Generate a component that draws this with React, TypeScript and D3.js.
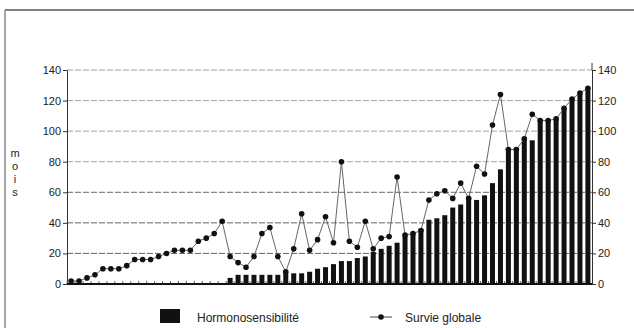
import { useRef, useEffect } from "react";
import * as d3 from "d3";

// 66 patients, ordered by duration of hormone sensitivity
const categories = d3.range(1, 67).map(String);

const hormono = [
  0, 0, 0, 0, 0, 0, 0, 0, 0, 0,
  0, 0, 0, 0, 0, 0, 0, 0, 0, 0,
  4, 6, 6, 6, 6, 6, 6, 8, 7, 7,
  8, 10, 11, 13, 15, 15, 17, 18, 21, 23,
  25, 27, 32, 33, 36, 42, 43, 45, 50, 52,
  57, 55, 58, 66, 75, 89, 89, 95, 94, 107,
  107, 108, 115, 121, 125, 127,
];

const survie = [
  2, 2, 4, 6, 10, 10, 10, 12, 16, 16,
  16, 18, 20, 22, 22, 22, 28, 30, 33, 41,
  18, 14, 11, 18, 33, 37, 18, 8, 23, 46,
  22, 29, 44, 27, 80, 28, 24, 41, 23, 30,
  31, 70, 32, 33, 35, 55, 59, 61, 56, 66,
  56, 77, 72, 104, 124, 88, 88, 95, 111, 107,
  107, 108, 115, 121, 125, 128,
];

const yTicks = [0, 20, 40, 60, 80, 100, 120, 140];
const yLetters = ["m", "o", "i", "s"];

export default function App() {
  const svgRef = useRef<SVGSVGElement>(null);

  useEffect(() => {
    document.body.style.margin = "0";
    if (!svgRef.current) return;
    const svg = d3.select(svgRef.current);
    svg.selectAll("*").remove();

    const left = 67, right = 592, top = 70, bottom = 284;
    const x = d3.scaleBand().domain(categories).range([left, right]).paddingInner(0.37).paddingOuter(0.2);
    const y = d3.scaleLinear().domain([0, 140]).range([bottom, top]);
    const cx = (i: number) => (x(categories[i]) ?? 0) + x.bandwidth() / 2;

    // frame
    svg.append("line").attr("x1", 5).attr("y1", 10).attr("x2", 634).attr("y2", 10)
      .attr("stroke", "#555").attr("stroke-width", 1.5);
    svg.append("line").attr("x1", 5).attr("y1", 10).attr("x2", 5).attr("y2", 328)
      .attr("stroke", "#888").attr("stroke-width", 1.5);

    // grid
    svg.append("g").selectAll("line")
      .data(yTicks.filter((t) => t > 0))
      .join("line")
      .attr("x1", left).attr("x2", right)
      .attr("y1", (d) => y(d)).attr("y2", (d) => y(d))
      .attr("stroke", (d) => (d <= 60 ? "#555" : "#999"))
      .attr("stroke-width", 0.9)
      .attr("stroke-dasharray", "6,2");

    // axes
    const axL = svg.append("g").attr("transform", `translate(${left},0)`)
      .call(d3.axisLeft(y).tickValues(yTicks).tickSize(4).tickSizeOuter(0).tickPadding(2));
    const axR = svg.append("g").attr("transform", `translate(${right},0)`)
      .call(d3.axisRight(y).tickValues(yTicks).tickSize(4).tickSizeOuter(0).tickPadding(2));
    [axL, axR].forEach((ax) => {
      ax.selectAll("text").attr("fill", "#222").style("font-size", "11px")
        .style("font-family", "Liberation Sans, Arial, sans-serif");
      ax.selectAll(".domain, .tick line").attr("stroke", "#333");
    });
    svg.append("line").attr("x1", right).attr("x2", right).attr("y1", top).attr("y2", top - 7)
      .attr("stroke", "#333");

    // bars
    svg.append("g").selectAll("rect")
      .data(hormono)
      .join("rect")
      .attr("x", (_d, i) => x(categories[i]) ?? 0)
      .attr("width", x.bandwidth())
      .attr("y", (d) => y(d))
      .attr("height", (d) => bottom - y(d))
      .attr("fill", "#111");

    // category ticks
    svg.append("g").selectAll("line")
      .data(categories)
      .join("line")
      .attr("x1", (d) => (x(d) ?? 0) - (x.step() - x.bandwidth()) / 2)
      .attr("x2", (d) => (x(d) ?? 0) - (x.step() - x.bandwidth()) / 2)
      .attr("y1", bottom).attr("y2", bottom - 3)
      .attr("stroke", "#666");

    // baseline
    svg.append("line").attr("x1", left).attr("x2", right).attr("y1", bottom).attr("y2", bottom)
      .attr("stroke", "#111").attr("stroke-width", 2);

    // line
    const line = d3.line<number>().x((_d, i) => cx(i)).y((d) => y(d));
    svg.append("path").datum(survie).attr("d", line)
      .attr("fill", "none").attr("stroke", "#666").attr("stroke-width", 1);
    svg.append("g").selectAll("circle")
      .data(survie)
      .join("circle")
      .attr("cx", (_d, i) => cx(i))
      .attr("cy", (d) => y(d))
      .attr("r", 2.8)
      .attr("fill", "#111");

    // y title
    svg.append("g").selectAll("text")
      .data(yLetters)
      .join("text")
      .attr("x", 15).attr("y", (_d, i) => 157 + i * 13)
      .attr("text-anchor", "middle")
      .attr("fill", "#222")
      .style("font-size", "11px")
      .style("font-family", "Liberation Sans, Arial, sans-serif")
      .text((d) => d);

    // legend
    const lg = svg.append("g").style("font-family", "Liberation Sans, Arial, sans-serif")
      .style("font-size", "12px").attr("fill", "#222");
    lg.append("rect").attr("x", 160).attr("y", 309).attr("width", 20).attr("height", 14).attr("fill", "#111");
    lg.append("text").attr("x", 197).attr("y", 322).text("Hormonosensibilité");
    lg.append("line").attr("x1", 370).attr("x2", 392).attr("y1", 317).attr("y2", 317).attr("stroke", "#444");
    lg.append("circle").attr("cx", 381).attr("cy", 317).attr("r", 2.8).attr("fill", "#111");
    lg.append("text").attr("x", 405).attr("y", 322).text("Survie globale");
  }, []);

  return <svg ref={svgRef} width={634} height={328} style={{ display: "block", background: "#fff" }} />;
}
